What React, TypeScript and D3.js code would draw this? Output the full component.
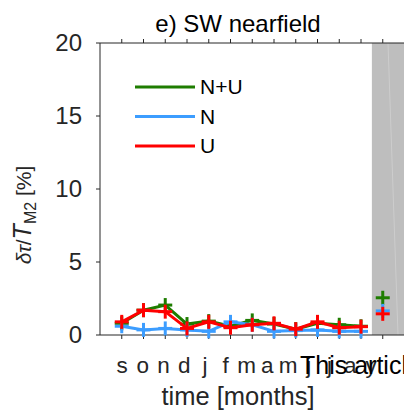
import React from "react";
import * as d3 from "d3";

const months = ["s", "o", "n", "d", "j", "f", "m", "a", "m", "j", "j", "a", "y"];
const nuMonthly = [0.8, 1.7, 2.05, 0.75, 0.95, 0.6, 1.0, 0.75, 0.4, 0.8, 0.7, 0.6];
const nMonthly = [0.6, 0.35, 0.45, 0.35, 0.25, 0.9, 0.7, 0.25, 0.3, 0.35, 0.25, 0.25];
const uMonthly = [0.9, 1.7, 1.6, 0.45, 0.9, 0.5, 0.7, 0.8, 0.4, 0.9, 0.5, 0.57];
const nuAnnual = [2.55];
const nAnnual = [1.65];
const uAnnual = [1.45];
const yTicks = [0, 5, 10, 15, 20];
const seriesNames = ["N+U", "N", "U"];

const W = 404;
const H = 413;
const FONT = "'Liberation Sans', Arial, Helvetica, sans-serif";
const AX = "#262626";

export default function App() {
  const x = d3.scaleLinear().domain([-1, 13]).range([100, 404.5]);
  const xl = d3.scaleLinear().domain([0, 12]).range([122, 371]);
  const y = d3.scaleLinear().domain([0, 20]).range([335, 43]);
  const top = y(20);
  const bottom = y(0);
  const left = x(-1);
  const colors = ["#1e7d00", "#3c9dff", "#ff0000"];
  const monthly = [nuMonthly, nMonthly, uMonthly];
  const annual = [nuAnnual, nAnnual, uAnnual];
  const line = d3
    .line<number>()
    .x((_, i) => x(i))
    .y((d) => y(d));
  const idx = d3.range(13);
  const arm = 7;

  const cross = (cx: number, cy: number, c: string, k: string) => (
    <g key={k} stroke={c} strokeWidth={3}>
      <line x1={cx - arm} x2={cx + arm} y1={cy} y2={cy} />
      <line x1={cx} x2={cx} y1={cy - arm} y2={cy + arm} />
    </g>
  );

  return (
    <svg
      width={W}
      height={H}
      style={{ position: "absolute", left: 0, top: 0, background: "#fff" }}
      fontFamily={FONT}
    >
      {/* grey shaded annual region */}
      <rect x={x(11.5)} y={top} width={W - x(11.5)} height={bottom - top} fill="#bebebe" />
      <line x1={388} y1={top} x2={398} y2={bottom} stroke="#cdcdcd" strokeWidth={1} />

      {/* axes */}
      <line x1={left} x2={W} y1={top} y2={top} stroke={AX} strokeWidth={1} />
      <line x1={left} x2={W} y1={bottom} y2={bottom} stroke={AX} strokeWidth={1} />
      <line x1={left} x2={left} y1={top} y2={bottom} stroke={AX} strokeWidth={1} />
      {idx.map((i) => (
        <g key={"xt" + i} stroke={AX}>
          <line x1={x(i)} x2={x(i)} y1={top} y2={top - 4} />
          <line x1={x(i)} x2={x(i)} y1={bottom} y2={bottom + 4} />
        </g>
      ))}
      {yTicks.map((t) => (
        <g key={"yt" + t}>
          <line x1={left} x2={left - 4} y1={y(t)} y2={y(t)} stroke={AX} />
          <text
            x={left - 18}
            y={y(t)}
            dy="0.35em"
            textAnchor="end"
            fontSize={24}
            fill={AX}
          >
            {t}
          </text>
        </g>
      ))}

      {/* series */}
      {monthly.map((s, k) => (
        <g key={"s" + k}>
          <path d={line(s) || ""} fill="none" stroke={colors[k]} strokeWidth={3} />
          {s.map((v, i) => cross(x(i), y(v), colors[k], "m" + k + "-" + i))}
          {annual[k].map((v, i) => cross(x(12 + i), y(v), colors[k], "a" + k + "-" + i))}
        </g>
      ))}

      {/* legend */}
      {seriesNames.map((n, k) => (
        <g key={"lg" + k}>
          <line
            x1={135}
            x2={195}
            y1={87 + k * 29.5}
            y2={87 + k * 29.5}
            stroke={colors[k]}
            strokeWidth={3}
          />
          <text x={200} y={87 + k * 29.5} dy="0.35em" fontSize={21} fill="#000">
            {n}
          </text>
        </g>
      ))}

      {/* x tick labels */}
      {months.map((m, i) => (
        <text
          key={"ml" + i}
          x={xl(i)}
          y={373}
          textAnchor="middle"
          fontSize={22.5}
          fill={AX}
        >
          {m}
        </text>
      ))}
      <text x={300} y={374} fontSize={25} fill="#000">
        This article
      </text>

      {/* title and labels */}
      <text x={238} y={32} textAnchor="middle" fontSize={24} fill="#000">
        e) SW nearfield
      </text>
      <text x={238} y={405} textAnchor="middle" fontSize={25.5} fill={AX}>
        time [months]
      </text>
      <text
        transform={`translate(31,${215}) rotate(-90)`}
        textAnchor="middle"
        fontSize={21}
        fill={AX}
      >
        <tspan fontStyle="italic">δτ</tspan>
        <tspan>/</tspan>
        <tspan fontStyle="italic" fontSize={25}>T</tspan>
        <tspan fontSize={16} dy={5}>M2</tspan>
        <tspan dy={-5}> [%]</tspan>
      </text>
    </svg>
  );
}
